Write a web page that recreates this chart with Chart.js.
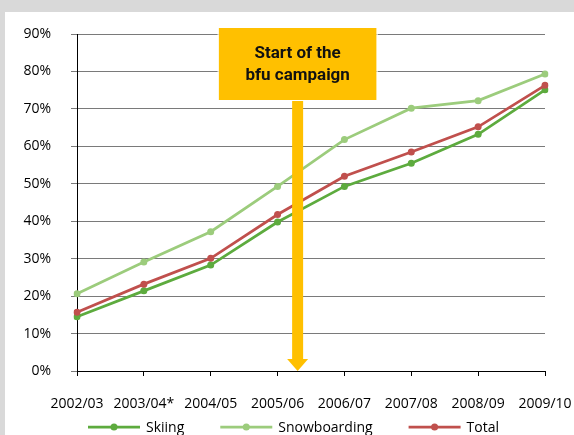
<!DOCTYPE html>
<html>
<head>
<meta charset="utf-8">
<script src="https://cdn.jsdelivr.net/npm/chart.js@4.4.0/dist/chart.umd.min.js"></script>
<style>
  html, body { margin: 0; padding: 0; background: #d9d9d9; }
  body { width: 574px; height: 435px; overflow: hidden; position: relative; }
  #panel { position: absolute; left: 5px; top: 12px; width: 569px; height: 423px; background: #fff; }
</style>
</head>
<body>
<div id="panel"><canvas id="chart" width="569" height="423"></canvas></div>
<script>
const seasons = ['2002/03', '2003/04*', '2004/05', '2005/06', '2006/07', '2007/08', '2008/09', '2009/10'];
const skiing = [14.5, 21.4, 28.3, 39.8, 49.3, 55.5, 63.2, 75.1];
const snowboarding = [20.6, 29.1, 37.2, 49.3, 61.8, 70.2, 72.2, 79.3];
const total = [15.7, 23.2, 30.1, 41.8, 52.0, 58.5, 65.2, 76.3];
const yMax = 90;
const yStep = 10;
const campaignAt = 3.3; // between 2005/06 and 2006/07
const campaignText = ['Start of the', 'bfu campaign'];

Chart.defaults.font.family = "'Open Sans', sans-serif";
Chart.defaults.font.size = 14;
Chart.defaults.color = '#000';

// legend under the axis labels: line + dot + label
const bottomLegend = {
    id: 'bottomLegend',
    afterDraw(chart) {
        const ctx = chart.ctx;
        let x = 83;
        const y = 415;
        ctx.save();
        ctx.font = "14px 'Open Sans'";
        ctx.textBaseline = 'alphabetic';
        chart.data.datasets.forEach(ds => {
            ctx.strokeStyle = ds.borderColor;
            ctx.lineWidth = 2.75;
            ctx.beginPath();
            ctx.moveTo(x, y);
            ctx.lineTo(x + 52, y);
            ctx.stroke();
            ctx.fillStyle = ds.borderColor;
            ctx.beginPath();
            ctx.arc(x + 26, y, 3.5, 0, Math.PI * 2);
            ctx.fill();
            ctx.fillStyle = '#000';
            ctx.fillText(ds.label, x + 58, y + 5);
            x += 58 + ctx.measureText(ds.label).width + 36;
        });
        ctx.restore();
    }
};

// orange box with the arrow pointing down to the x axis
const campaignArrow = {
    id: 'campaignArrow',
    afterDatasetsDraw(chart) {
        const { ctx, scales: { x, y } } = chart;
        const cx = x.getPixelForValue(campaignAt);
        const base = y.getPixelForValue(0);
        const boxTop = y.getPixelForValue(yMax) - 6;
        const boxW = 158, boxH = 72;
        ctx.save();
        ctx.fillStyle = '#ffc000';
        // shaft
        ctx.fillRect(cx - 5.5, boxTop + boxH, 11, base - 12 - (boxTop + boxH));
        // head
        ctx.beginPath();
        ctx.moveTo(cx - 10.5, base - 12);
        ctx.lineTo(cx + 10.5, base - 12);
        ctx.lineTo(cx, base);
        ctx.closePath();
        ctx.fill();
        // box
        ctx.fillRect(cx - boxW / 2, boxTop, boxW, boxH);
        ctx.strokeStyle = '#fff';
        ctx.lineWidth = 1;
        ctx.strokeRect(cx - boxW / 2 - 0.5, boxTop - 0.5, boxW + 1, boxH + 1);
        ctx.fillStyle = '#111';
        ctx.font = "bold 17px Roboto";
        ctx.textAlign = 'center';
        ctx.textBaseline = 'alphabetic';
        ctx.fillText(campaignText[0], cx, boxTop + 30);
        ctx.fillText(campaignText[1], cx, boxTop + 52);
        ctx.restore();
    }
};

function series(label, data, color, order) {
    return {
        label: label,
        data: data,
        borderColor: color,
        backgroundColor: color,
        borderWidth: 2.75,
        pointRadius: 3.5,
        pointHoverRadius: 3.5,
        pointBorderWidth: 0,
        tension: 0,
        order: order
    };
}

new Chart(document.getElementById('chart'), {
    type: 'line',
    data: {
        labels: seasons,
        datasets: [
            series('Skiing', skiing, '#5dab3e', 2),
            series('Snowboarding', snowboarding, '#9ccc7c', 3),
            series('Total', total, '#c0504d', 1)
        ]
    },
    options: {
        responsive: false,
        animation: false,
        devicePixelRatio: 1,
        layout: { padding: { top: 22, right: 29, left: 0, bottom: 0 } },
        plugins: {
            legend: { display: false },
            tooltip: { enabled: false }
        },
        scales: {
            x: {
                offset: false,
                grid: { drawOnChartArea: false, drawTicks: true, tickLength: 5, color: '#000' },
                border: { color: '#000', width: 1 },
                ticks: { padding: 20, maxRotation: 0, autoSkip: false },
                afterFit(s) { s.height = 64; s.paddingLeft = 0; s.paddingRight = 0; }
            },
            y: {
                min: 0,
                max: yMax,
                grid: { color: '#7a7a7a', tickLength: 6 },
                border: { color: '#000', width: 1 },
                ticks: { stepSize: yStep, padding: 20, callback: v => v + '%' },
                afterFit(s) { s.width = 72; s.paddingTop = 0; s.paddingBottom = 0; }
            }
        }
    },
    plugins: [campaignArrow, bottomLegend]
});
</script>
</body>
</html>
